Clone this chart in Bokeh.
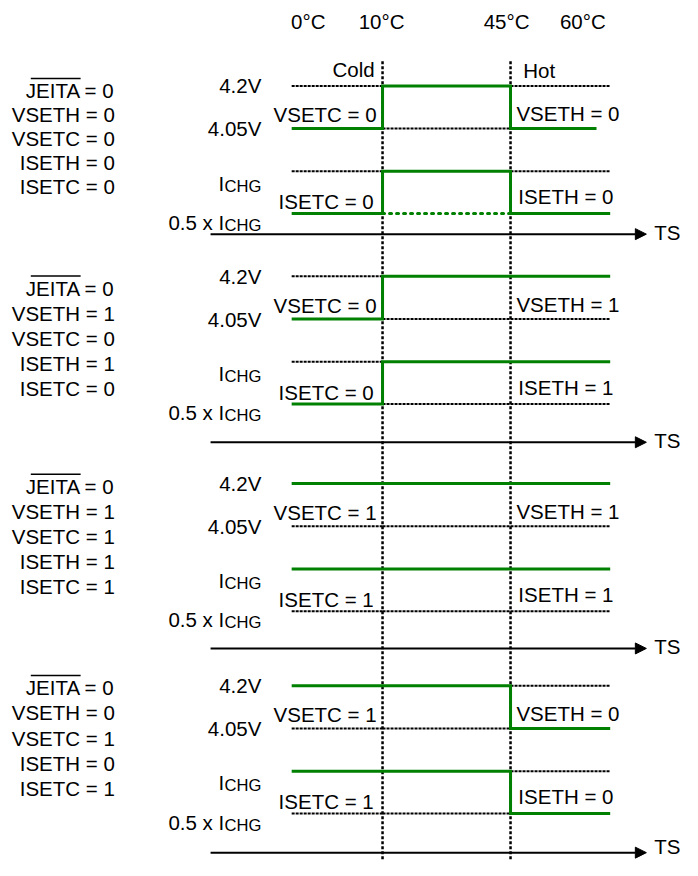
from bokeh.plotting import figure
from bokeh.models import Range1d, Arrow, NormalHead, ColumnDataSource
from bokeh.core.properties import value
from bokeh.embed import file_html
from bokeh.resources import INLINE

# ---------------- data ----------------
TEMP_LABELS = ["0°C", "10°C", "45°C", "60°C"]
ZONE_LABELS = ["Cold", "Hot"]
V_LABELS = ["4.2V", "4.05V"]
I_LABELS = ["I", "0.5 x I"]
I_SUB = "CHG"
AXIS_LABEL = "TS"
JEITA = [0, 0, 0, 0]
VSETH = [0, 1, 1, 0]
VSETC = [0, 0, 1, 1]
ISETH = [0, 1, 1, 0]
ISETC = [0, 0, 1, 1]
HALF_MID_DOTTED = [1, 0, 0, 0]   # normal-zone 0.5 x ICHG trace drawn dotted green

# ---------------- layout ----------------
FONT = value("Liberation Sans")
FS = "20.5px"
FS_SUB = "16.6px"
GREEN = "#008000"
X_START, X_COLD, X_HOT, X_END = 298, 391, 522, 624
V_HOT_END = [610, 624, 624, 624]
TEMP_X = [315, 390, 518, 596]
PANEL_TOP = [87, 281, 492, 698]
PANEL_AXIS = [238, 450, 660, 868]
TS_Y = [236, 448, 658, 862]
LEVEL_OFF = [0, 43.5, 87, 130]
SET_TOP = [92, 293, 495, 700]
SET_STEP = [24.4, 25.5, 25.5, 25.7]

p = figure(width=682, height=860, x_range=Range1d(0, 698), y_range=Range1d(876, 0),
           output_backend="svg", toolbar_location=None, min_border=0,
           x_axis_location=None, y_axis_location=None)
p.grid.grid_line_color = None
p.outline_line_color = None
p.background_fill_color = "white"


def add_text(xs, ys, texts, size=FS, align="left", baseline="middle"):
    src = ColumnDataSource(dict(x=xs, y=ys, t=texts))
    p.text(x="x", y="y", text="t", source=src, text_font=FONT, text_font_size=size,
           text_align=align, text_baseline=baseline, text_color="black")


# vertical zone boundaries
p.segment(x0=[X_COLD, X_HOT], y0=[62, 62], x1=[X_COLD, X_HOT], y1=[876, 876],
          line_color="black", line_width=2.5, line_dash="3 2")

green_xs, green_ys = [], []
dot_xs, dot_ys = [], []
gdot_xs, gdot_ys = [], []
for i in range(4):
    lv = [PANEL_TOP[i] + o for o in LEVEL_OFF]
    pairs = [(lv[0], lv[1], VSETC[i], VSETH[i], V_HOT_END[i], 0),
             (lv[2], lv[3], ISETC[i], ISETH[i], X_END, HALF_MID_DOTTED[i])]
    for hi, lo, cset, hset, xend, mid_dot in pairs:
        yc = hi if cset else lo
        yh = hi if hset else lo
        yn = hi
        green_xs.append([X_START, X_COLD, X_COLD, X_HOT, X_HOT, xend])
        green_ys.append([yc, yc, yn, yn, yh, yh])
        for k, (x0, x1, yu) in enumerate([(X_START, X_COLD, yc), (X_COLD, X_HOT, yn), (X_HOT, X_END, yh)]):
            other = lo if yu == hi else hi
            if k == 1 and mid_dot:
                gdot_xs.append([x0, x1]); gdot_ys.append([other, other])
            else:
                dot_xs.append([x0, x1]); dot_ys.append([other, other])

p.multi_line(xs=dot_xs, ys=dot_ys, line_color="black", line_width=2, line_dash="3 1")
p.multi_line(xs=gdot_xs, ys=gdot_ys, line_color=GREEN, line_width=3, line_dash="2 5", line_cap="round")
p.multi_line(xs=green_xs, ys=green_ys, line_color=GREEN, line_width=3, line_join="miter")

# axes with arrows
arrow_src = ColumnDataSource(dict(x0=[215] * 4, x1=[661] * 4, y=PANEL_AXIS))
p.add_layout(Arrow(source=arrow_src, x_start="x0", y_start="y", x_end="x1", y_end="y",
                   line_color="black", line_width=2,
                   end=NormalHead(size=11, fill_color="black", line_color="black", line_width=1)))
add_text([669] * 4, TS_Y, [AXIS_LABEL] * 4)

# temperature labels
add_text(TEMP_X, [21] * 4, TEMP_LABELS, align="center")
add_text([383], [70], [ZONE_LABELS[0]], align="right")
add_text([535], [71], [ZONE_LABELS[1]], align="left")

# settings blocks on the left
sx, sy, st = [], [], []
ol_x0, ol_x1, ol_y = [], [], []
for i in range(4):
    rows = [("JEITA", JEITA[i]), ("VSETH", VSETH[i]), ("VSETC", VSETC[i]),
            ("ISETH", ISETH[i]), ("ISETC", ISETC[i])]
    for r, (name, v) in enumerate(rows):
        sx.append(117); sy.append(SET_TOP[i] + r * SET_STEP[i]); st.append(f"{name} = {v}")
    ol_x0.append(31); ol_x1.append(82); ol_y.append(SET_TOP[i] - 12.5)
add_text(sx, sy, st, align="right")
p.segment(x0=ol_x0, y0=ol_y, x1=ol_x1, y1=ol_y, line_color="black", line_width=1.5)

# level labels
vx, vy, vt = [], [], []
ix, iy, it = [], [], []
cx, cy, ct = [], [], []
for i in range(4):
    lv = [PANEL_TOP[i] + o for o in LEVEL_OFF]
    vx += [267, 267]; vy += [lv[0], lv[1]]; vt += V_LABELS
    ix += [229, 229]; iy += [lv[2] + 12, lv[3] + 9]; it += I_LABELS
    cx += [267, 267]; cy += [lv[2] + 15, lv[3] + 12]; ct += [I_SUB, I_SUB]
add_text(vx, vy, vt, align="right")
add_text(ix, iy, it, align="right", baseline="alphabetic")
add_text(cx, cy, ct, size=FS_SUB, align="right", baseline="alphabetic")

# inline setting labels
lx, ly, lt = [], [], []
rx, ry, rt = [], [], []
for i in range(4):
    lv = [PANEL_TOP[i] + o for o in LEVEL_OFF]
    lx += [385, 382]; ly += [lv[1] - 14, lv[3] - 12]
    lt += [f"VSETC = {VSETC[i]}", f"ISETC = {ISETC[i]}"]
    rx += [528, 530]; ry += [lv[1] - 15, lv[3] - 17]
    rt += [f"VSETH = {VSETH[i]}", f"ISETH = {ISETH[i]}"]
add_text(lx, ly, lt, align="right")
add_text(rx, ry, rt, align="left")

open("out.html", "w").write(file_html(p, INLINE))
